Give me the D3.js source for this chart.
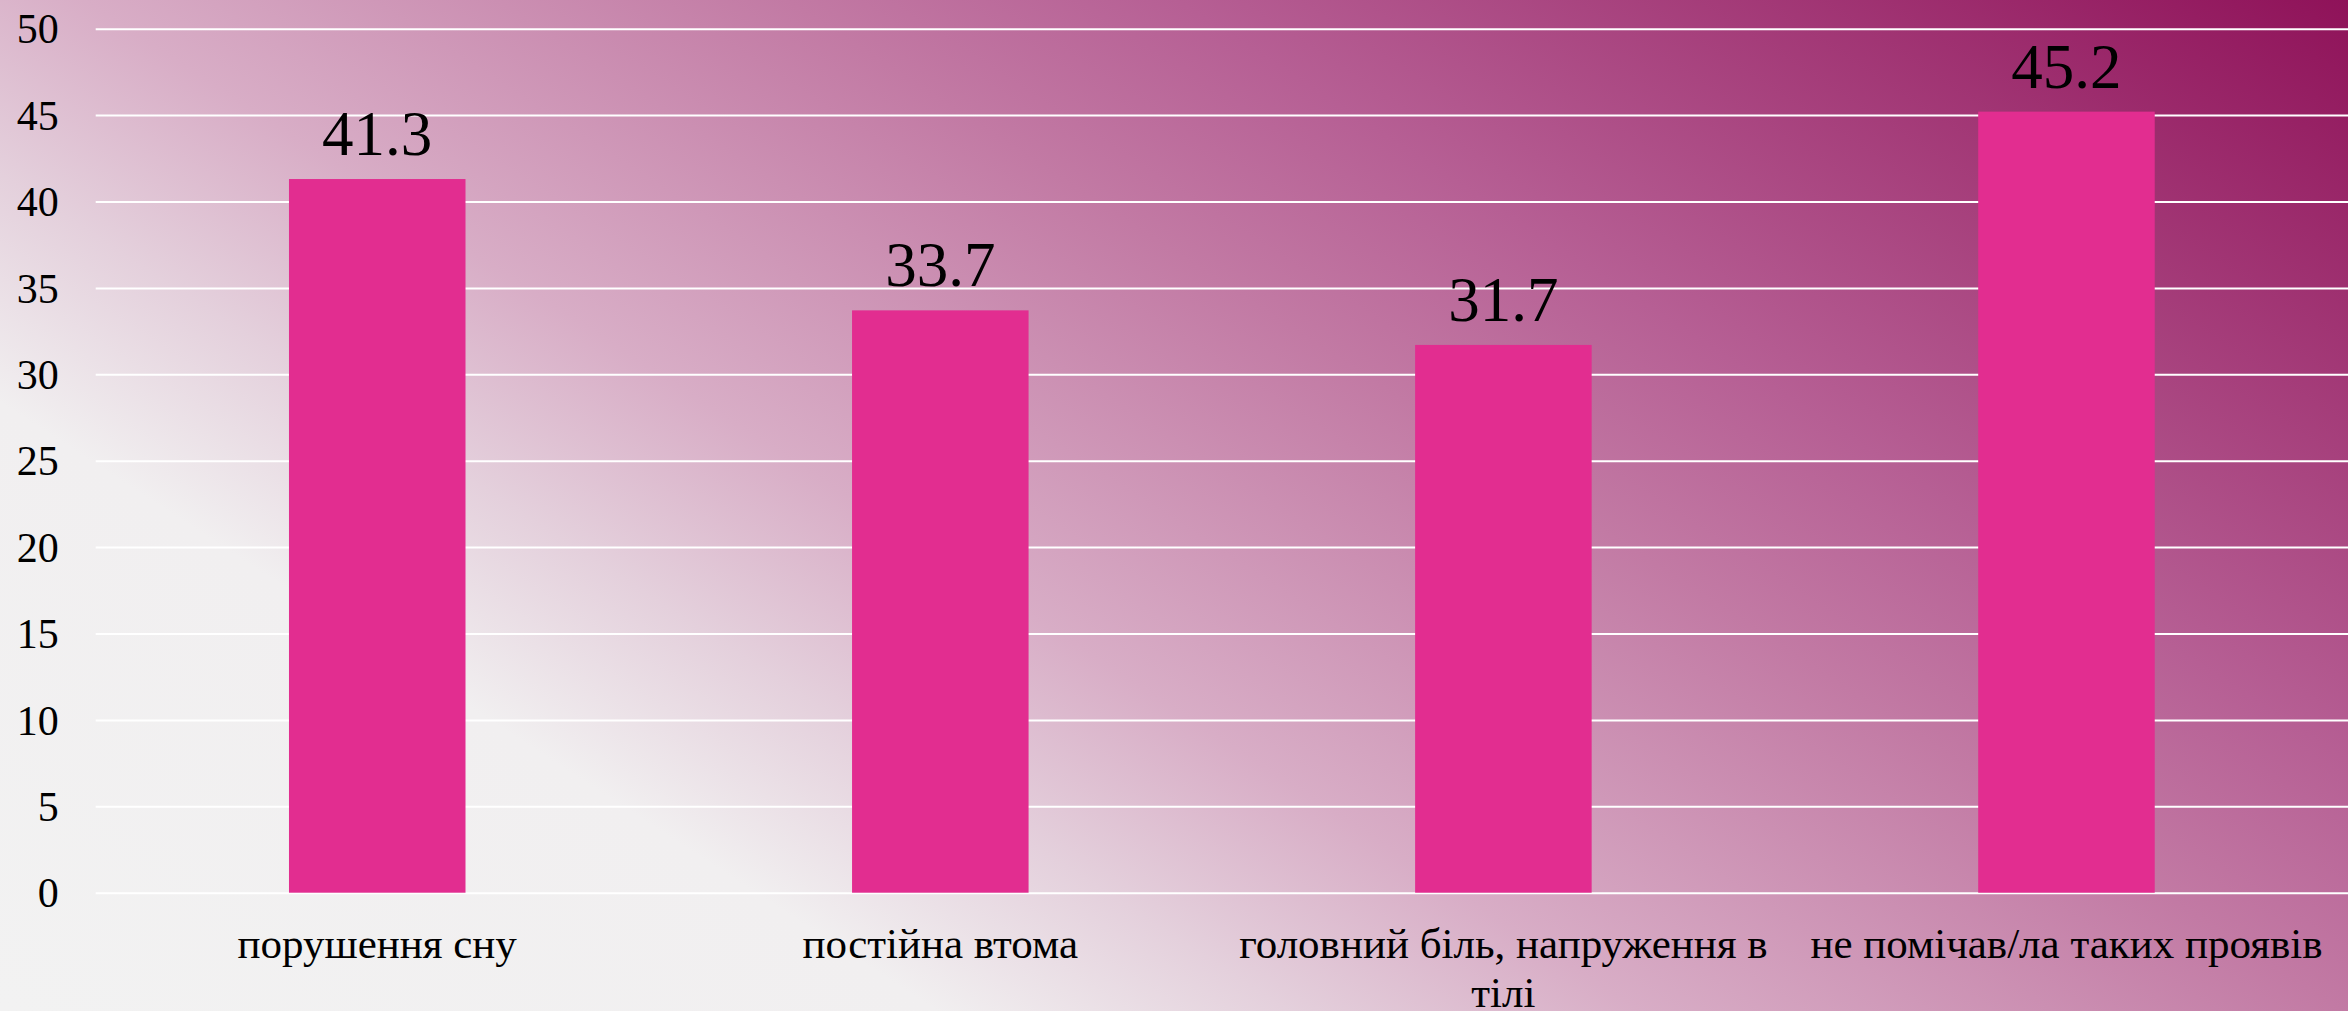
<!DOCTYPE html>
<html>
<head>
<meta charset="utf-8">
<script src="https://cdn.jsdelivr.net/npm/d3@7"></script>
<style>
  body { margin: 0; padding: 0; overflow: hidden; }
  text { font-family: "Liberation Serif", "Times New Roman", serif; fill: #000; }
</style>
</head>
<body>
<div id="my_dataviz"></div>
<script>
// data
let categories = ["порушення сну", "постійна втома", "головний біль, напруження в тілі", "не помічав/ла таких проявів"];
let values = [41.3, 33.7, 31.7, 45.2];
let yTicks = [0, 5, 10, 15, 20, 25, 30, 35, 40, 45, 50];

var width = 2348
var height = 1011
var margin = { top: 28.7, right: 0, bottom: 118.3, left: 95.7 }

var svg = d3.select("#my_dataviz")
  .append("svg")
    .attr("width", width)
    .attr("height", height)

// background gradient, light in bottom-left going to deep magenta top-right
var ang = 57 * Math.PI / 180
var len = width * Math.cos(ang) + height * Math.sin(ang)
var grad = svg.append("defs").append("linearGradient")
    .attr("id", "bg")
    .attr("gradientUnits", "userSpaceOnUse")
    .attr("x1", 0).attr("y1", height)
    .attr("x2", len * Math.cos(ang)).attr("y2", height - len * Math.sin(ang))

var stops = [
  [0, "#f2f2f2"],
  [0.24, "#f1eff0"],
  [0.33, "#e4d0dc"],
  [0.42, "#d8adc6"],
  [0.6, "#c27aa4"],
  [0.7, "#b65f94"],
  [1, "#8f1259"]
]
grad.selectAll("stop")
  .data(stops)
  .enter()
  .append("stop")
    .attr("offset", d => d[0])
    .attr("stop-color", d => d[1])

svg.append("rect")
    .attr("width", width)
    .attr("height", height)
    .attr("fill", "url(#bg)")

// scales
var x = d3.scaleBand()
    .domain(categories)
    .range([margin.left, width - margin.right])
    .paddingInner(0.6865)
    .paddingOuter(0.6865 / 2)

var y = d3.scaleLinear()
    .domain([0, 50])
    .range([height - margin.bottom, margin.top])

// gridlines through the axis generator
var yAxis = svg.append("g")
    .attr("transform", "translate(" + margin.left + ",0)")
    .call(d3.axisLeft(y)
      .tickValues(yTicks)
      .tickSize(-(width - margin.left - margin.right))
      .tickPadding(37)
      .tickFormat(d3.format("d")))

yAxis.attr("font-family", null)
yAxis.select(".domain").remove()
yAxis.selectAll(".tick line")
    .attr("stroke", "#fff")
    .attr("stroke-width", 2)
yAxis.selectAll(".tick text")
    .attr("font-size", 42)
    .attr("fill", "#000")
    .attr("dy", "0.34em")

// bars
svg.append("g")
  .selectAll("rect")
  .data(values)
  .enter()
  .append("rect")
    .attr("x", (d, i) => x(categories[i]))
    .attr("y", d => y(d))
    .attr("width", x.bandwidth())
    .attr("height", d => y(0) - y(d))
    .attr("fill", "#e22d90")

// value labels above bars
svg.append("g")
  .selectAll("text")
  .data(values)
  .enter()
  .append("text")
    .attr("x", (d, i) => x(categories[i]) + x.bandwidth() / 2)
    .attr("y", d => y(d) - 24)
    .attr("text-anchor", "middle")
    .attr("font-size", 63)
    .text(d => d.toFixed(1))

// category labels, wrapped to the band step
var catG = svg.append("g")
categories.forEach(function(c, i) {
  var cx = x(c) + x.bandwidth() / 2
  var t = catG.append("text")
      .attr("x", cx)
      .attr("y", 958)
      .attr("text-anchor", "middle")
      .attr("font-size", 43)
  var words = c.split(" ")
  var line = []
  var tspan = t.append("tspan").attr("x", cx).attr("dy", 0)
  words.forEach(function(w) {
    line.push(w)
    tspan.text(line.join(" "))
    if (tspan.node().getComputedTextLength() > x.step() - 10 && line.length > 1) {
      line.pop()
      tspan.text(line.join(" "))
      line = [w]
      tspan = t.append("tspan")
          .attr("x", cx)
          .attr("dy", 49)
          .text(w)
    }
  })
})
</script>
</body>
</html>
